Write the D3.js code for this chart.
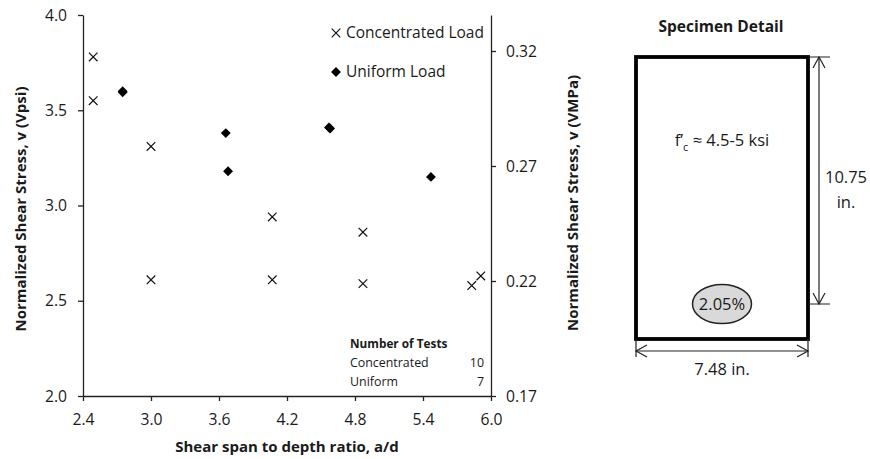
<!DOCTYPE html>
<meta charset="utf-8">
<head>
    <script src="https://d3js.org/d3.v7.min.js"></script>
    <style>
        body { margin: 0; background: #fff; }
        text { font-family: "Open Sans", sans-serif; fill: #1a1a1a; }
    </style>
</head>
<body>
<div id="chartContainer"></div>
</body>
<script type="text/javascript">

    // concentrated load tests (a/d, normalized shear stress in Vpsi)
    var concX = [2.49, 2.49, 3.0, 4.07, 3.0, 4.07, 4.87, 4.87, 5.83, 5.91];
    var concY = [3.78, 3.55, 3.31, 2.94, 2.61, 2.61, 2.86, 2.59, 2.58, 2.63];
    // uniform load tests (two pairs nearly overlap)
    var unifX = [2.75, 2.75, 3.66, 3.68, 4.57, 4.58, 5.47];
    var unifY = [3.60, 3.594, 3.38, 3.18, 3.41, 3.404, 3.15];

    var xTicks = [2.4, 3.0, 3.6, 4.2, 4.8, 5.4, 6.0];
    var yTicks = [2.0, 2.5, 3.0, 3.5, 4.0];
    var y2Ticks = [0.17, 0.22, 0.27, 0.32];

    var legendLabels = ["Concentrated Load", "Uniform Load"];
    var testTypes = ["Concentrated", "Uniform"];
    var testCounts = [10, 7];

    // specimen drawing: width, height (in.), reinforcement ratio
    var specWidth = 7.48, specHeight = 10.75;
    var rhoLabel = "2.05%";

    var W = 870, H = 459;
    var svg = d3.select("#chartContainer").append("svg")
        .attr("width", W).attr("height", H);

    var x = d3.scaleLinear().domain([2.4, 6.0]).range([83, 491]);
    var y = d3.scaleLinear().domain([2.0, 4.0]).range([396, 15]);
    var y2 = d3.scaleLinear().domain([0.17, 0.17 + (396 - 15) / 115 * 0.05]).range([396, 15]);

    function styleAxis(g) {
        g.selectAll("path.domain").attr("stroke", "#222").attr("stroke-width", 1.3);
        g.selectAll(".tick line").attr("stroke", "#222").attr("stroke-width", 1.3);
        g.selectAll(".tick text").style("font-family", "Open Sans").style("font-size", "15.7px").attr("fill", "#222");
    }

    svg.append("g").attr("transform", "translate(0,396)")
        .call(d3.axisBottom(x).tickValues(xTicks).tickFormat(d3.format(".1f")).tickSize(5).tickSizeOuter(0).tickPadding(13))
        .call(styleAxis);
    svg.append("g").attr("transform", "translate(83,0)")
        .call(d3.axisLeft(y).tickValues(yTicks).tickFormat(d3.format(".1f")).tickSize(5).tickSizeOuter(0).tickPadding(11))
        .call(styleAxis);
    svg.append("g").attr("transform", "translate(491,0)")
        .call(d3.axisRight(y2).tickValues(y2Ticks).tickFormat(d3.format(".2f")).tickSize(5).tickSizeOuter(0).tickPadding(10))
        .call(styleAxis);

    // axis titles
    svg.append("text")
        .attr("x", 287).attr("y", 447).attr("dy", "0.35em")
        .attr("text-anchor", "middle")
        .style("font-size", "15px").style("font-weight", "bold")
        .text("Shear span to depth ratio, a/d");
    svg.append("text")
        .attr("transform", "translate(26,209) rotate(-90)")
        .attr("text-anchor", "middle")
        .style("font-size", "15px").style("font-weight", "bold")
        .text("Normalized Shear Stress, v (Vpsi)");
    svg.append("text")
        .attr("transform", "translate(578,203) rotate(-90)")
        .attr("text-anchor", "middle")
        .style("font-size", "15px").style("font-weight", "bold")
        .text("Normalized Shear Stress, v (VMPa)");

    // markers
    function cross(g, cx, cy, r) {
        g.append("path")
            .attr("d", "M" + (cx - r) + "," + (cy - r) + "L" + (cx + r) + "," + (cy + r) +
                       "M" + (cx - r) + "," + (cy + r) + "L" + (cx + r) + "," + (cy - r))
            .attr("stroke", "#111").attr("stroke-width", 1.2).attr("fill", "none");
    }
    var diamond = d3.symbol().type(d3.symbolDiamond2).size(62);

    var pts = svg.append("g");
    concX.forEach(function (d, i) { cross(pts, x(d), y(concY[i]), 4.3); });
    pts.selectAll("path.uni").data(unifX).join("path")
        .attr("class", "uni")
        .attr("transform", function (d, i) { return "translate(" + x(d) + "," + y(unifY[i]) + ")"; })
        .attr("d", diamond)
        .attr("fill", "#000");

    // legend
    var leg = svg.append("g");
    cross(leg, 336, 33, 4.3);
    leg.append("path").attr("transform", "translate(336,72)").attr("d", diamond).attr("fill", "#000");
    leg.selectAll("text.lg").data(legendLabels).join("text")
        .attr("class", "lg")
        .attr("x", 346)
        .attr("y", function (d, i) { return 33 + i * 39; })
        .attr("dy", "0.35em")
        .style("font-size", "15.5px")
        .text(function (d) { return d; });

    // number of tests table
    var tbl = svg.append("g");
    tbl.append("text").attr("x", 350).attr("y", 344).attr("dy", "0.35em")
        .style("font-size", "11.8px").style("font-weight", "bold").text("Number of Tests");
    testTypes.forEach(function (t, i) {
        tbl.append("text").attr("x", 350).attr("y", 363 + i * 19).attr("dy", "0.35em")
            .style("font-size", "12.4px").text(t);
        tbl.append("text").attr("x", 484).attr("y", 363 + i * 19).attr("dy", "0.35em")
            .attr("text-anchor", "end")
            .style("font-size", "12.4px").text(testCounts[i]);
    });

    // specimen detail
    var sp = svg.append("g");
    var L = 636, R = 808, T = 57, B = 339;
    sp.append("text").attr("x", 721).attr("y", 27).attr("dy", "0.35em")
        .attr("text-anchor", "middle")
        .style("font-size", "15.5px").style("font-weight", "bold")
        .text("Specimen Detail");
    sp.append("rect").attr("x", L).attr("y", T).attr("width", R - L).attr("height", B - T)
        .attr("fill", "none").attr("stroke", "#000").attr("stroke-width", 3.8);

    var fc = sp.append("text").attr("x", 722).attr("y", 140).attr("dy", "0.35em")
        .attr("text-anchor", "middle").style("font-size", "16.5px");
    fc.append("tspan").text("f\u2019");
    fc.append("tspan").attr("dy", 5).style("font-size", "11px").text("c");
    fc.append("tspan").attr("dy", -5).text(" \u2248 4.5-5 ksi");

    sp.append("ellipse").attr("cx", 722).attr("cy", 304).attr("rx", 29.5).attr("ry", 19.5)
        .attr("fill", "#d9d9d9").attr("stroke", "#222").attr("stroke-width", 1.5);
    sp.append("text").attr("x", 722).attr("y", 304).attr("dy", "0.35em")
        .attr("text-anchor", "middle").style("font-size", "16.5px").text(rhoLabel);

    var dim = sp.append("g").attr("stroke", "#222").attr("stroke-width", 1.2).attr("fill", "none");
    // vertical dimension
    var vx = 819, vb = 304;
    dim.append("path").attr("d", "M" + R + "," + T + "H830M" + R + "," + vb + "H830");
    dim.append("path").attr("d", "M" + vx + "," + T + "V" + vb);
    dim.append("path").attr("d", "M" + (vx - 6) + "," + (T + 11) + "L" + vx + "," + T + "L" + (vx + 6) + "," + (T + 11));
    dim.append("path").attr("d", "M" + (vx - 6) + "," + (vb - 11) + "L" + vx + "," + vb + "L" + (vx + 6) + "," + (vb - 11));
    sp.append("text").attr("x", 846).attr("y", 177).attr("dy", "0.35em").attr("text-anchor", "middle")
        .style("font-size", "16.5px").text(d3.format(".2f")(specHeight));
    sp.append("text").attr("x", 846).attr("y", 202).attr("dy", "0.35em").attr("text-anchor", "middle")
        .style("font-size", "16.5px").text("in.");
    // horizontal dimension
    var hy = 351;
    dim.append("path").attr("d", "M" + L + "," + B + "V357M" + R + "," + B + "V357");
    dim.append("path").attr("d", "M" + L + "," + hy + "H" + R);
    dim.append("path").attr("d", "M" + (L + 11) + "," + (hy - 6) + "L" + L + "," + hy + "L" + (L + 11) + "," + (hy + 6));
    dim.append("path").attr("d", "M" + (R - 11) + "," + (hy - 6) + "L" + R + "," + hy + "L" + (R - 11) + "," + (hy + 6));
    sp.append("text").attr("x", 722).attr("y", 369).attr("dy", "0.35em").attr("text-anchor", "middle")
        .style("font-size", "16.5px").text(d3.format(".2f")(specWidth) + " in.");

</script>
</html>
